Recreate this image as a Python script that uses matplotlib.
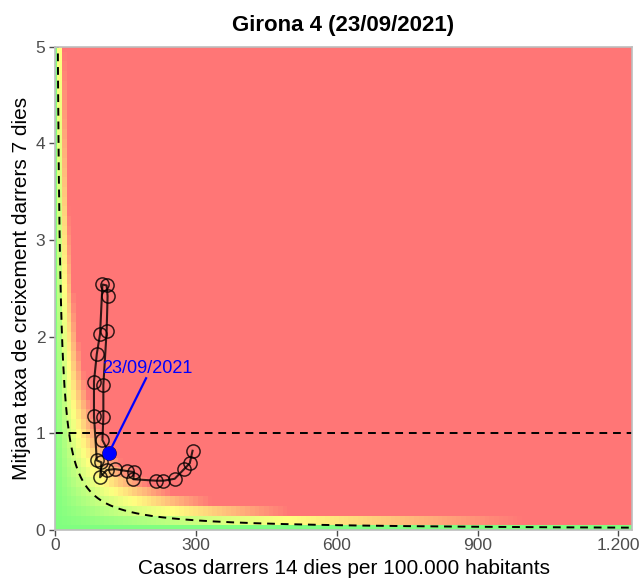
import numpy as np
import matplotlib
matplotlib.use("Agg")
import matplotlib.pyplot as plt
from matplotlib.colors import LinearSegmentedColormap
from matplotlib.ticker import FuncFormatter

plt.rcParams["font.family"] = ["Liberation Sans", "DejaVu Sans"]

# trajectory (cases per 100k in last 14 days, mean growth rate last 7 days)
casos14 = [293, 287, 275, 255, 231, 216, 167, 168, 153, 128, 110, 96, 99, 89,
           83, 83, 89, 96, 101, 110, 112, 110, 103, 103, 101, 115]
rho7 = [0.82, 0.69, 0.63, 0.53, 0.51, 0.51, 0.525, 0.60, 0.61, 0.63, 0.62, 0.545,
        0.70, 0.72, 1.18, 1.535, 1.82, 2.03, 2.54, 2.53, 2.42, 2.06, 1.50, 1.17,
        0.93, 0.80]
last_date = "23/09/2021"
title = "Girona 4 (23/09/2021)"
epg_curve = 30
x_ticks = [0, 300, 600, 900, 1200]
y_ticks = [0, 1, 2, 3, 4, 5]

fig = plt.figure(figsize=(6.42, 5.8), dpi=100)
ax = fig.add_axes([55 / 642, 50 / 580, 577 / 642, 483.3 / 580])

# risk background: product of both axes
gx = np.arange(0, 1240, 10)
gy = np.arange(0, 5.1, 0.1)
GX, GY = np.meshgrid(gx, gy)
cmap = LinearSegmentedColormap.from_list(
    "risk", [(0, "#80FF80"), (0.5, "#FFFF80"), (1, "#FF7676")])
ax.pcolormesh(GX, GY, np.clip(GX * GY, 0, 100), cmap=cmap, vmin=0, vmax=100,
              shading="nearest", zorder=0)

# reference lines
xc = np.linspace(5, 1229, 800)
ax.plot(xc, epg_curve / xc, color="black", ls=(0, (4, 3)), lw=1.4, zorder=2)
ax.axhline(1, color="black", ls=(0, (4, 3)), lw=1.4, zorder=2)

ax.plot(casos14, rho7, color="black", lw=1.5, alpha=0.8, marker="o",
        markersize=9.5, markerfacecolor="none", markeredgewidth=1.1, zorder=3)

ax.plot(casos14[-1], rho7[-1], "o", color="blue", markersize=9, zorder=4)
ax.plot([194, casos14[-1]], [1.57, rho7[-1]], color="blue", lw=1.6, zorder=4)
ax.text(196, 1.675, last_date, color="blue", fontsize=13, ha="center",
        va="center", zorder=5)

ax.set_xlim(0, 1229)
ax.set_ylim(0, 5)
ax.set_xticks(x_ticks)
ax.set_yticks(y_ticks)
ax.xaxis.set_major_formatter(FuncFormatter(lambda v, p: f"{int(v):,}".replace(",", ".")))
ax.tick_params(colors="#4D4D4D", labelsize=12.5, length=4, width=1, labelcolor="#4D4D4D")
ax.tick_params(axis="x", pad=2)
ax.tick_params(axis="y", pad=3)
for s in ax.spines.values():
    s.set_color("#BEBEBE")
    s.set_linewidth(1.2)

ax.set_xlabel("Casos darrers 14 dies per 100.000 habitants", fontsize=15, labelpad=4)
ax.set_ylabel("Mitjana taxa de creixement darrers 7 dies", fontsize=15, labelpad=3)
ax.set_title(title, fontsize=16, fontweight="bold", pad=11)

fig.savefig("out.png", dpi=100)
